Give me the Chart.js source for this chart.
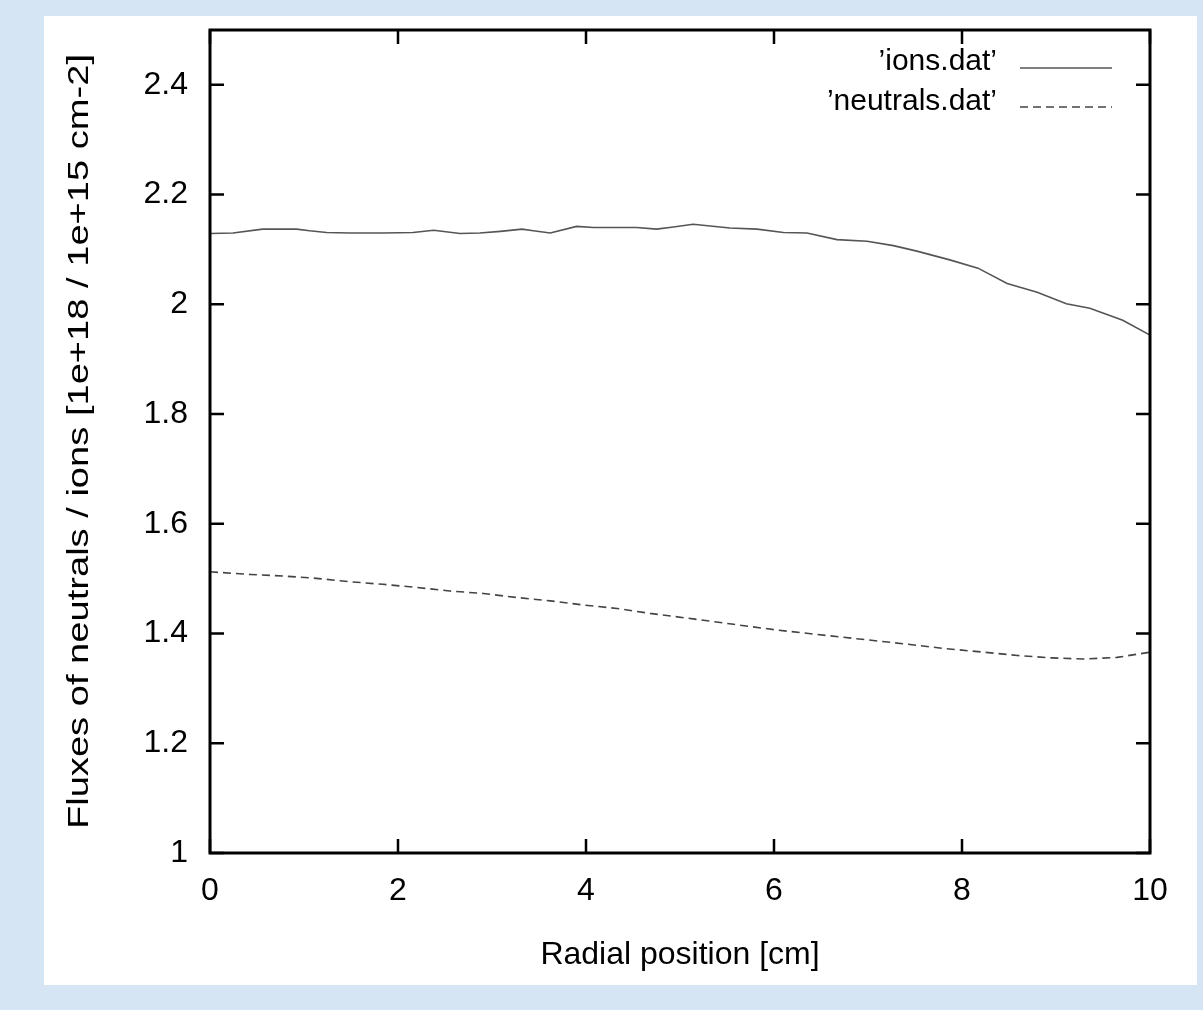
<!DOCTYPE html>
<html>
<head>
<meta charset="utf-8">
<script src="https://cdn.jsdelivr.net/npm/chart.js@4/dist/chart.umd.min.js"></script>
<style>
  html, body { margin: 0; padding: 0; background: rgb(213,229,243); width: 1203px; height: 1010px; overflow: hidden; }
  #panel { position: absolute; left: 44px; top: 16px; width: 1153px; height: 969px; background: #ffffff; }
  canvas { display: block; }
</style>
</head>
<body>
<div id="panel"><canvas id="c" width="1153" height="969"></canvas></div>
<script>
// ---- data ----
const ionsX = [0, 0.245, 0.56, 0.92, 1.06, 1.24, 1.49, 1.84, 2.16, 2.38, 2.66, 2.87, 3.09, 3.32, 3.44, 3.62, 3.90, 4.08, 4.54, 4.75, 4.93, 5.14, 5.53, 5.82, 6.10, 6.35, 6.67, 6.99, 7.27, 7.52, 7.87, 8.17, 8.48, 8.80, 9.11, 9.36, 9.71, 10.0];
const ionsY = [2.129, 2.130, 2.137, 2.137, 2.134, 2.131, 2.130, 2.130, 2.131, 2.135, 2.129, 2.130, 2.133, 2.137, 2.134, 2.130, 2.142, 2.140, 2.140, 2.137, 2.141, 2.146, 2.139, 2.137, 2.131, 2.130, 2.118, 2.115, 2.107, 2.097, 2.081, 2.066, 2.038, 2.022, 2.001, 1.993, 1.971, 1.944];
const neutralsX = [0, 0.43, 0.78, 1.13, 1.49, 1.84, 2.20, 2.55, 2.91, 3.26, 3.62, 3.97, 4.33, 4.68, 5.14, 5.57, 6.03, 6.45, 6.91, 7.37, 7.80, 8.23, 8.59, 8.94, 9.29, 9.65, 10.0];
const neutralsY = [1.5125, 1.5076, 1.5048, 1.5006, 1.4944, 1.4897, 1.484, 1.4775, 1.473, 1.4657, 1.4596, 1.452, 1.4457, 1.4367, 1.4267, 1.4168, 1.4064, 1.3985, 1.390, 1.3815, 1.373, 1.366, 1.360, 1.3557, 1.3535, 1.3565, 1.366];
const xTicks = [0, 2, 4, 6, 8, 10];
const xTickLabels = ['0', '2', '4', '6', '8', '10'];
const yTicks = [1, 1.2, 1.4, 1.6, 1.8, 2, 2.2, 2.4];
const yTickLabels = ['1', '1.2', '1.4', '1.6', '1.8', '2', '2.2', '2.4'];
const seriesNames = ['\u2019ions.dat\u2019', '\u2019neutrals.dat\u2019'];
const xTitle = 'Radial position [cm]';
const yTitle = 'Fluxes of neutrals / ions [1e+18 / 1e+15 cm-2]';

const FONT = 'Liberation Sans, Arial, sans-serif';

const toPts = (xs, ys) => xs.map((x, i) => ({x: x, y: ys[i]}));

const framePlugin = {
  id: 'frame',
  afterDatasetsDraw(chart) {
    const {ctx, chartArea: a, scales: {x, y}} = chart;
    ctx.save();
    ctx.strokeStyle = '#000';
    ctx.lineWidth = 2.5;
    const L = 14;
    ctx.beginPath();
    xTicks.forEach(v => {
      const px = x.getPixelForValue(v);
      ctx.moveTo(px, a.bottom); ctx.lineTo(px, a.bottom - L);
      ctx.moveTo(px, a.top); ctx.lineTo(px, a.top + L);
    });
    yTicks.forEach(v => {
      const py = y.getPixelForValue(v);
      ctx.moveTo(a.left, py); ctx.lineTo(a.left + L, py);
      ctx.moveTo(a.right, py); ctx.lineTo(a.right - L, py);
    });
    ctx.stroke();
    ctx.lineWidth = 3;
    ctx.strokeRect(a.left, a.top, a.right - a.left, a.bottom - a.top);

    // y-axis title (stretched along its length like the reference)
    ctx.save();
    ctx.translate(36, (a.top + a.bottom) / 2);
    ctx.rotate(-Math.PI / 2);
    ctx.scale(1.27, 1);
    ctx.font = '30px ' + FONT;
    ctx.fillStyle = '#000';
    ctx.textAlign = 'center';
    ctx.textBaseline = 'middle';
    ctx.fillText(yTitle, 0, 0);
    ctx.restore();

    // legend
    ctx.font = '30px ' + FONT;
    ctx.fillStyle = '#000';
    ctx.textAlign = 'right';
    ctx.textBaseline = 'alphabetic';
    const rows = [{ty: 54, ly: 52}, {ty: 94, ly: 91}];
    chart.data.datasets.forEach((ds, i) => {
      ctx.fillText(ds.label, 953, rows[i].ty);
      ctx.save();
      ctx.strokeStyle = ds.borderColor;
      ctx.lineWidth = ds.borderWidth;
      ctx.setLineDash(ds.borderDash || []);
      ctx.beginPath();
      ctx.moveTo(976, rows[i].ly);
      ctx.lineTo(1068, rows[i].ly);
      ctx.stroke();
      ctx.restore();
    });
    ctx.restore();
  }
};

const noPad = s => { s.paddingTop = 0; s.paddingBottom = 0; s.paddingLeft = 0; s.paddingRight = 0; };

new Chart(document.getElementById('c'), {
  type: 'line',
  data: {
    datasets: [
      { label: seriesNames[0], data: toPts(ionsX, ionsY), borderColor: '#555555', borderWidth: 1.6, pointRadius: 0, tension: 0, fill: false },
      { label: seriesNames[1], data: toPts(neutralsX, neutralsY), borderColor: '#444444', borderWidth: 1.6, borderDash: [8, 5], pointRadius: 0, tension: 0, fill: false }
    ]
  },
  options: {
    responsive: false,
    animation: false,
    layout: { padding: { left: 0, top: 14, right: 47, bottom: 0 } },
    plugins: { legend: { display: false }, tooltip: { enabled: false } },
    scales: {
      x: {
        type: 'linear', min: 0, max: 10,
        afterBuildTicks: s => { s.ticks = xTicks.map(v => ({value: v})); },
        afterFit: s => { s.height = 132; noPad(s); },
        grid: { display: false, drawTicks: false },
        border: { display: false },
        ticks: { padding: 19, color: '#000', font: { family: FONT, size: 32 }, callback: (v) => xTickLabels[xTicks.indexOf(v)], maxRotation: 0, autoSkip: false },
        title: { display: true, text: xTitle, color: '#000', font: { family: FONT, size: 32 }, padding: { top: 0, bottom: 11 } }
      },
      y: {
        type: 'linear', min: 1, max: 2.5,
        afterBuildTicks: s => { s.ticks = yTicks.map(v => ({value: v})); },
        afterFit: s => { s.width = 166; noPad(s); },
        grid: { display: false, drawTicks: false },
        border: { display: false },
        ticks: { padding: 22, color: '#000', font: { family: FONT, size: 32 }, callback: (v) => yTickLabels[yTicks.indexOf(v)], autoSkip: false },
        title: { display: false, text: yTitle }
      }
    }
  },
  plugins: [framePlugin]
});
</script>
</body>
</html>
